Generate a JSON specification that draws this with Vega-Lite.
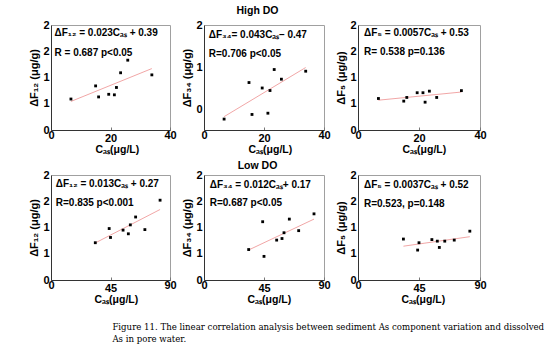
{
  "$schema": "https://vega.github.io/schema/vega-lite/v6.json",
  "padding": {"left": 28, "top": 6, "right": 2, "bottom": 2},
  "datasets": {
    "hi": [
      {"c": 6.7, "f12": 0.59, "f34": -0.24, "f5": 0.60},
      {"c": 15.0, "f12": 0.84, "f34": 0.63, "f5": 0.55},
      {"c": 16.0, "f12": 0.63, "f34": -0.13, "f5": 0.62},
      {"c": 19.4, "f12": 0.68, "f34": 0.50, "f5": 0.71},
      {"c": 21.3, "f12": 0.67, "f34": -0.10, "f5": 0.71},
      {"c": 22.0, "f12": 0.81, "f34": 0.44, "f5": 0.53},
      {"c": 23.4, "f12": 1.09, "f34": 0.94, "f5": 0.74},
      {"c": 25.8, "f12": 1.33, "f34": 0.71, "f5": 0.62},
      {"c": 33.9, "f12": 1.05, "f34": 0.90, "f5": 0.75}
    ],
    "hiFit": [
      {"c": 6.7, "f12": 0.544, "f34": -0.182, "f5": 0.568},
      {"c": 33.9, "f12": 1.170, "f34": 0.988, "f5": 0.723}
    ],
    "lo": [
      {"c": 33.5, "f12": 0.71, "f34": 0.58, "f5": 0.78},
      {"c": 44.0, "f12": 0.98, "f34": 1.11, "f5": 0.57},
      {"c": 45.0, "f12": 0.81, "f34": 0.45, "f5": 0.71},
      {"c": 54.5, "f12": 0.95, "f34": 0.76, "f5": 0.77},
      {"c": 58.5, "f12": 0.88, "f34": 0.79, "f5": 0.74},
      {"c": 60.0, "f12": 1.05, "f34": 0.90, "f5": 0.62},
      {"c": 64.0, "f12": 1.20, "f34": 1.16, "f5": 0.74},
      {"c": 71.0, "f12": 0.96, "f34": 0.94, "f5": 0.76},
      {"c": 82.5, "f12": 1.52, "f34": 1.26, "f5": 0.93}
    ],
    "loFit": [
      {"c": 33.5, "f12": 0.706, "f34": 0.572, "f5": 0.644},
      {"c": 82.5, "f12": 1.343, "f34": 1.160, "f5": 0.825}
    ]
  },
  "config": {
    "font": "Liberation Sans",
    "view": {"stroke": "#a0a0a0", "strokeWidth": 1},
    "axis": {
      "grid": false,
      "domainColor": "#333333",
      "labelFont": "Liberation Sans",
      "labelFontWeight": "bold",
      "labelFontSize": 11,
      "labelColor": "#000000",
      "labelOverlap": false,
      "labelFlush": false,
      "titleFont": "Liberation Sans",
      "titleFontWeight": "bold",
      "titleFontSize": 11,
      "titleColor": "#000000",
      "tickColor": "#777777"
    },
    "axisX": {"labelPadding": {"condition": {"test": "datum.value === 20 || datum.value === 45", "value": 5}, "value": 2}, "tickSize": -3, "titleAlign": "left", "titleY": 22, "titleBaseline": "alphabetic", "titleFontSize": 10.5},
    "axisY": {"tickSize": 0, "labelPadding": 2, "titlePadding": 3, "format": "d", "values": [0, 1, 2]},
    "title": {"font": "Liberation Sans", "fontWeight": "bold", "fontSize": 10.5, "color": "#000000"},
    "line": {"color": "#ee8f8f", "strokeWidth": 0.8},
    "square": {"color": "#000000", "size": 8, "opacity": 1},
    "text": {"align": "left", "baseline": "middle", "fontWeight": "bold", "fontSize": 10, "color": "#000000"}
  },
  "title": {
    "text": ["Figure 11. The linear correlation analysis between sediment As component variation and dissolved", "As in pore water."],
    "orient": "bottom",
    "anchor": "start",
    "dx": 84,
    "offset": 18,
    "font": "DejaVu Serif",
    "fontWeight": "normal",
    "fontSize": 8.6,
    "lineHeight": 11.5
  },
  "spacing": 6,
  "vconcat": [
    {
      "title": {"text": "High DO", "anchor": "middle", "offset": 2},
      "spacing": 4,
      "hconcat": [
        {
          "width": 119, "height": 105,
          "layer": [
            {"data": {"name": "hiFit"}, "mark": "line",
              "encoding": {
                "x": {"field": "c", "type": "quantitative", "scale": {"domain": [0, 40], "nice": false},
                  "axis": {"values": [0, 10, 20, 30, 40], "labelExpr": "datum.value % 20 === 0 ? datum.label : ''", "title": "Cₐₛ(μg/L)", "titleX": 44}},
                "y": {"field": "f12", "type": "quantitative", "scale": {"domain": [0, 2], "nice": false}, "axis": {"title": "ΔF₁₂ (μg/g)"}}
              }},
            {"data": {"name": "hi"}, "mark": "square",
              "encoding": {"x": {"field": "c", "type": "quantitative"}, "y": {"field": "f12", "type": "quantitative"}}},
            {"data": {"values": [{"t": "ΔF₁₂ = 0.023Cₐₛ + 0.39"}]}, "mark": "text", "encoding": {"x": {"datum": 1.2, "type": "quantitative"}, "y": {"datum": 1.85, "type": "quantitative"}, "text": {"field": "t"}}},
            {"data": {"values": [{"t": "R = 0.687  p<0.05"}]}, "mark": "text", "encoding": {"x": {"datum": 1.2, "type": "quantitative"}, "y": {"datum": 1.47, "type": "quantitative"}, "text": {"field": "t"}}}
          ]
        },
        {
          "width": 120, "height": 105,
          "layer": [
            {"data": {"name": "hiFit"}, "mark": "line",
              "encoding": {
                "x": {"field": "c", "type": "quantitative", "scale": {"domain": [0, 40], "nice": false},
                  "axis": {"values": [0, 10, 20, 30, 40], "labelExpr": "datum.value % 20 === 0 ? datum.label : ''", "title": "Cₐₛ(μg/L)", "titleX": 44}},
                "y": {"field": "f34", "type": "quantitative", "scale": {"domain": [-0.5, 2], "nice": false}, "axis": {"title": "ΔF₃₄ (μg/g)"}}
              }},
            {"data": {"name": "hi"}, "mark": "square",
              "encoding": {"x": {"field": "c", "type": "quantitative"}, "y": {"field": "f34", "type": "quantitative"}}},
            {"data": {"values": [{"t": "ΔF₃₄= 0.043Cₐₛ– 0.47"}]}, "mark": "text", "encoding": {"x": {"datum": 1.6, "type": "quantitative"}, "y": {"datum": 1.77, "type": "quantitative"}, "text": {"field": "t"}}},
            {"data": {"values": [{"t": "R=0.706  p<0.05"}]}, "mark": "text", "encoding": {"x": {"datum": 1.6, "type": "quantitative"}, "y": {"datum": 1.3, "type": "quantitative"}, "text": {"field": "t"}}}
          ]
        },
        {
          "width": 122, "height": 105,
          "layer": [
            {"data": {"name": "hiFit"}, "mark": "line",
              "encoding": {
                "x": {"field": "c", "type": "quantitative", "scale": {"domain": [0, 40], "nice": false},
                  "axis": {"values": [0, 10, 20, 30, 40], "labelExpr": "datum.value % 20 === 0 ? datum.label : ''", "title": "Cₐₛ(μg/L)", "titleX": 44}},
                "y": {"field": "f5", "type": "quantitative", "scale": {"domain": [0, 2], "nice": false}, "axis": {"title": "ΔF₅ (μg/g)"}}
              }},
            {"data": {"name": "hi"}, "mark": "square",
              "encoding": {"x": {"field": "c", "type": "quantitative"}, "y": {"field": "f5", "type": "quantitative"}}},
            {"data": {"values": [{"t": "ΔF₅ = 0.0057Cₐₛ + 0.53"}]}, "mark": "text", "encoding": {"x": {"datum": 2, "type": "quantitative"}, "y": {"datum": 1.84, "type": "quantitative"}, "text": {"field": "t"}}},
            {"data": {"values": [{"t": "R= 0.538  p=0.136"}]}, "mark": "text", "encoding": {"x": {"datum": 2, "type": "quantitative"}, "y": {"datum": 1.48, "type": "quantitative"}, "text": {"field": "t"}}}
          ]
        }
      ]
    },
    {
      "title": {"text": "Low DO", "anchor": "middle", "offset": -3},
      "spacing": 4,
      "hconcat": [
        {
          "width": 119, "height": 105,
          "layer": [
            {"data": {"name": "loFit"}, "mark": "line",
              "encoding": {
                "x": {"field": "c", "type": "quantitative", "scale": {"domain": [0, 90], "nice": false},
                  "axis": {"values": [0, 22.5, 45, 67.5, 90], "labelExpr": "datum.value % 45 === 0 ? datum.label : ''", "title": "Cₐₛ(μg/L)", "titleX": 43}},
                "y": {"field": "f12", "type": "quantitative", "scale": {"domain": [0, 2], "nice": false}, "axis": {"title": "ΔF₁₂ (μg/g)"}}
              }},
            {"data": {"name": "lo"}, "mark": "square",
              "encoding": {"x": {"field": "c", "type": "quantitative"}, "y": {"field": "f12", "type": "quantitative"}}},
            {"data": {"values": [{"t": "ΔF₁₂ = 0.013Cₐₛ + 0.27"}]}, "mark": "text", "encoding": {"x": {"datum": 3.6, "type": "quantitative"}, "y": {"datum": 1.83, "type": "quantitative"}, "text": {"field": "t"}}},
            {"data": {"values": [{"t": "R=0.835 p<0.001"}]}, "mark": "text", "encoding": {"x": {"datum": 3.6, "type": "quantitative"}, "y": {"datum": 1.47, "type": "quantitative"}, "text": {"field": "t"}}}
          ]
        },
        {
          "width": 120, "height": 105,
          "layer": [
            {"data": {"name": "loFit"}, "mark": "line",
              "encoding": {
                "x": {"field": "c", "type": "quantitative", "scale": {"domain": [0, 90], "nice": false},
                  "axis": {"values": [0, 22.5, 45, 67.5, 90], "labelExpr": "datum.value % 45 === 0 ? datum.label : ''", "title": "Cₐₛ(μg/L)", "titleX": 43}},
                "y": {"field": "f34", "type": "quantitative", "scale": {"domain": [0, 2], "nice": false}, "axis": {"title": "ΔF₃₄ (μg/g)"}}
              }},
            {"data": {"name": "lo"}, "mark": "square",
              "encoding": {"x": {"field": "c", "type": "quantitative"}, "y": {"field": "f34", "type": "quantitative"}}},
            {"data": {"values": [{"t": "ΔF₃₄ = 0.012Cₐₛ+ 0.17"}]}, "mark": "text", "encoding": {"x": {"datum": 4.3, "type": "quantitative"}, "y": {"datum": 1.81, "type": "quantitative"}, "text": {"field": "t"}}},
            {"data": {"values": [{"t": "R=0.687   p<0.05"}]}, "mark": "text", "encoding": {"x": {"datum": 4.3, "type": "quantitative"}, "y": {"datum": 1.47, "type": "quantitative"}, "text": {"field": "t"}}}
          ]
        },
        {
          "width": 122, "height": 105,
          "layer": [
            {"data": {"name": "loFit"}, "mark": "line",
              "encoding": {
                "x": {"field": "c", "type": "quantitative", "scale": {"domain": [0, 90], "nice": false},
                  "axis": {"values": [0, 22.5, 45, 67.5, 90], "labelExpr": "datum.value % 45 === 0 ? datum.label : ''", "title": "Cₐₛ(μg/L)", "titleX": 43}},
                "y": {"field": "f5", "type": "quantitative", "scale": {"domain": [0, 2], "nice": false}, "axis": {"title": "ΔF₅ (μg/g)"}}
              }},
            {"data": {"name": "lo"}, "mark": "square",
              "encoding": {"x": {"field": "c", "type": "quantitative"}, "y": {"field": "f5", "type": "quantitative"}}},
            {"data": {"values": [{"t": "ΔF₅ = 0.0037Cₐₛ + 0.52"}]}, "mark": "text", "encoding": {"x": {"datum": 4.4, "type": "quantitative"}, "y": {"datum": 1.81, "type": "quantitative"}, "text": {"field": "t"}}},
            {"data": {"values": [{"t": "R=0.523, p=0.148"}]}, "mark": "text", "encoding": {"x": {"datum": 4.4, "type": "quantitative"}, "y": {"datum": 1.44, "type": "quantitative"}, "text": {"field": "t"}}}
          ]
        }
      ]
    }
  ]
}
